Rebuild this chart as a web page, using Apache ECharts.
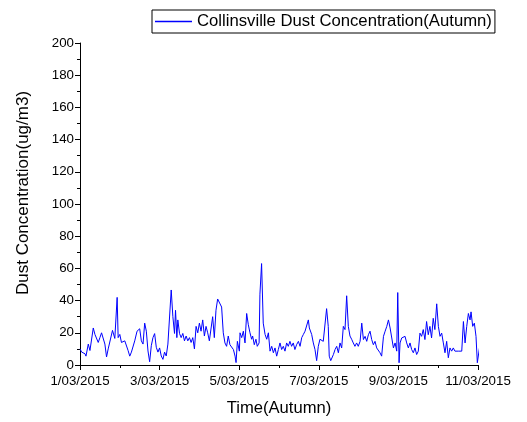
<!DOCTYPE html>
<html>
<head>
<meta charset="utf-8">
<script src="https://cdn.jsdelivr.net/npm/echarts@6/dist/echarts.min.js"></script>
<style>
html,body{margin:0;padding:0;background:#fff;}
#chart{width:527px;height:422px;}
</style>
</head>
<body>
<div id="chart"></div>
<script>
// time in hours since 1/03/2015 00:00
var hours = [0,1,2,3,3.6,5,6,7,8,9,10,11,12,13,14,15,16,17,18,19.6,21,22.4,23,24,25,26,27,28,29,30,31,33,34.4,36,37,38,39,40,41,42,43,44,45,46,47,48,49,50,51,52,53,54,55,56,57,57.6,58.4,59,60,61,62,63,64,65,66,67,68,69,70,71,72,73,74,75,76,77,78,79,80,81,82,83,
  85.4,86.4,87.4,88.4,89.4,90.4,91.5,92.5,93.5,94.1,94.9,96.1,96.5,97.5,98.5,99.5,100.5,101.5,102.5,103.5,104.1,105.1,106.1,106.9,108,108.5,109.5,110.5,111.6,112.6,113.6,114.6,115.6,116.6,117.6,118.6,119.6,120.6,121.6,122.6,123.6,124.6,125.6,126.6,127.6,128.6,129.6,130.6,131.7,132.7,133.7,134.7,135.7,136.7,137.7,138.3,139.7,140.7,141.7,142.7,143.7,144.7,145.7,146.7,147.7,148.7,149.7,150.3,151.2,152.8,153.8,154.8,155.8,156.8,157.8,158.8,159.8,160.8,161.8,162.8,163.8,164.8,165.8,166.8,167.8,
  168.9,169.9,170.9,171.9,172.9,173.9,174.9,175.9,176.9,177.9,178.9,179.9,180.9,181.9,183,184,185,186,187,188,189,190,191,191.6,192.4,193,194,195,196,197,198,199,200,201,202,203,204,205,206,207,208,209,210,211,212,213,214,215.1,216.1,217.1,218.1,219.1,220.1,221.1,222.1,223.1,224.1,225.1,226.1,227.1,228.1,229.1,230.2,231.2,232.2,233.2,234.2,235.2,235.8,236.8,237.8,238.8,239.6,240.2,240.8,241.6,242.4];
var dust = [10,8,7.5,7,5.5,13,9,9,23,19,19,14,17,20,21,13,5,10,11,21.5,16.5,42,17,19,14,15,15,15,9,5.5,8,15,21,22.5,15,13,26,21,8.7,2,12,17,19.5,11,8,10.6,5.6,3.5,8,5.6,13,14,46.6,30,19.6,34,17,28,19.6,17,19.6,15,18,15,17,14,17,10,24,20,26,21,28,18,24,20,15,14,30,17,34,41,
  36,20,13.7,11.6,18,12.6,13.7,9.6,5.5,1.5,14.7,8.6,20,17,21,13.7,32,25,20,16,18,12.6,16,11.6,13.7,44,63,26,19,16,20,8.6,11.6,7.6,10.6,5.5,9.6,13.7,9.6,11.6,8.6,13.7,11.6,14.7,11.6,13.7,9.6,12.6,14.7,11.6,17,19,21,22,28,23,19,13.7,9.6,2.7,11.6,16,17,14.7,13.7,35,24,5.5,2.7,6.5,9.6,11.6,7.6,13.7,10.6,24,22,43,24,18,16,13.7,11.6,13.7,11.6,
  14.7,26,15.8,17.8,14.7,18.8,21,15.8,12.6,14.7,10.6,9.6,7.6,5.5,17.8,21,24,28,23,22,10.6,13.7,8.6,45,1.4,13.7,16.8,15.8,17.8,13.7,10.6,13.7,9.6,7.6,10.6,6.5,8.6,19.8,17.8,22,15.8,27,18.8,24,16.8,29,22,38,24,17.8,19.8,13.7,7.6,14.7,4.5,10.6,8.6,10.6,8.6,9.6,8.6,9.6,8.6,27,13.7,24,32,28,33,24,26,17.8,1.4,1,1.8,15.8,12.6];
var xTickLabels = ['1/03/2015','3/03/2015','5/03/2015','7/03/2015','9/03/2015','11/03/2015'];
var seriesName = 'Collinsville Dust Concentration(Autumn)';

var pairs = hours.map(function(h,i){return [h, dust[i]];});
var chart = echarts.init(document.getElementById('chart'), null, {renderer:'canvas'});
var font = 'Liberation Sans, Arial, sans-serif';
chart.setOption({
  animation:false,
  backgroundColor:'#fff',
  color:['#0000ff'],
  grid:{left:80,right:49,top:43,bottom:54,containLabel:false},
  legend:{
    left:152, top:10,
    padding:[3,3,3,3],
    borderColor:'#000', borderWidth:1, borderRadius:0,
    itemWidth:37, itemHeight:1.4, itemGap:0,
    icon:'rect',
    itemStyle:{color:'#0000ff', borderWidth:0},
    textStyle:{fontFamily:font,fontSize:16.7,color:'#000'},
    data:[seriesName]
  },
  xAxis:{
    type:'value', min:0, max:240, interval:48,
    name:'Time(Autumn)', nameLocation:'middle', nameGap:35,
    nameTextStyle:{fontFamily:font,fontSize:16.6,color:'#000'},
    axisLine:{lineStyle:{color:'#000',width:1}},
    axisTick:{show:true,inside:false,length:5,lineStyle:{color:'#000'}},
    minorTick:{show:true,splitNumber:2,length:3,lineStyle:{color:'#000'}},
    splitLine:{show:false},
    axisLabel:{fontFamily:font,fontSize:13.3,color:'#000',margin:10,
      formatter:function(v){return xTickLabels[Math.round(v/48)];}}
  },
  yAxis:{
    type:'value', min:0, max:200, interval:20,
    name:'Dust Concentration(ug/m3)', nameLocation:'middle', nameGap:48,
    nameTextStyle:{fontFamily:font,fontSize:17,color:'#000',padding:[0,0,0,22]},
    axisLine:{show:true,lineStyle:{color:'#000',width:1}},
    axisTick:{show:true,inside:false,length:5,lineStyle:{color:'#000'}},
    minorTick:{show:true,splitNumber:2,length:3,lineStyle:{color:'#000'}},
    splitLine:{show:false},
    axisLabel:{fontFamily:font,fontSize:13.3,color:'#000',margin:6}
  },
  series:[{
    name:seriesName, type:'line', data:pairs,
    symbol:'none', clip:false,
    lineStyle:{color:'#0000ff',width:1},
    itemStyle:{color:'#0000ff'}
  }]
});
</script>
</body>
</html>
